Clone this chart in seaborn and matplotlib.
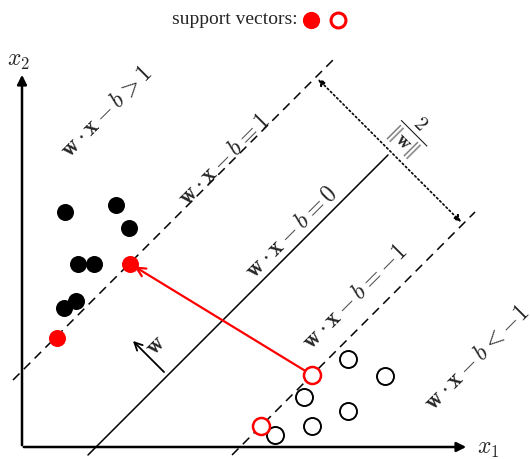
import matplotlib
matplotlib.use("Agg")
import matplotlib.pyplot as plt
import seaborn as sns
import numpy as np
import pandas as pd

# class +1 (filled) and class -1 (open) samples
pos_x = [43, 94, 107, 56, 72, 54, 42]
pos_y = [235, 242, 219, 183, 183, 146, 139]
neg_x = [326, 363, 282, 326, 290, 253]
neg_y = [88, 71, 50, 36, 21, 12]
# support vectors
sv_pos_x = [108, 35]
sv_pos_y = [183, 109]
sv_neg_x = [290, 239]
sv_neg_y = [72, 21]

# lines x2 = x1 + c  (c for w.x-b = 1, 0, -1) and their x1 extents
intercepts = [76, -74, -218]
line_x0 = [-9, 66, 210]
line_x1 = [311, 366, 453]
line_styles = ["--", "-", "--"]

sns.set_style("white")
plt.rcParams["mathtext.fontset"] = "cm"
plt.rcParams["font.family"] = ["Liberation Serif", "DejaVu Serif"]

fig = plt.figure(figsize=(5.30, 4.59), dpi=100)
ax = fig.add_axes([0, 0, 1, 1])
ax.set_xlim(-22, 508)
ax.set_ylim(-12, 447)
ax.axis("off")

for c, a, b, ls in zip(intercepts, line_x0, line_x1, line_styles):
    xs = np.array([a, b])
    ax.plot(xs, xs + c, color="black", lw=1.1, ls=ls, dashes=(6, 4) if ls == "--" else (None, None))

pos = pd.DataFrame({"x": pos_x, "y": pos_y})
neg = pd.DataFrame({"x": neg_x, "y": neg_y})
svp = pd.DataFrame({"x": sv_pos_x, "y": sv_pos_y})
svn = pd.DataFrame({"x": sv_neg_x, "y": sv_neg_y})
sns.scatterplot(data=pos, x="x", y="y", ax=ax, s=150, color="black", edgecolor="black", linewidth=0, zorder=3)
sns.scatterplot(data=neg, x="x", y="y", ax=ax, s=150, facecolor="white", edgecolor="black", linewidth=1.4, zorder=3)
sns.scatterplot(data=svp, x="x", y="y", ax=ax, s=150, color="#ff0000", edgecolor="#ff0000", linewidth=0, zorder=4)
sns.scatterplot(data=svn, x="x", y="y", ax=ax, s=150, facecolor="white", edgecolor="#ff0000", linewidth=1.8, zorder=4)

# coordinate axes
ax.annotate("", xy=(0, 375), xytext=(0, -1), arrowprops=dict(arrowstyle="-|>", color="black", lw=1.8, mutation_scale=14))
ax.annotate("", xy=(447, 0), xytext=(-1, 0), arrowprops=dict(arrowstyle="-|>", color="black", lw=1.8, mutation_scale=14))
ax.text(-4, 386, r"$x_2$", fontsize=17, ha="center", va="center")
ax.text(466, -2, r"$x_1$", fontsize=17, ha="center", va="center")

# margin arrow and red distance arrow
ax.annotate("", xy=(294, 370), xytext=(441, 223),
            arrowprops=dict(arrowstyle="<|-|>", color="black", lw=1.2, ls=":", mutation_scale=10))
ax.annotate("", xy=(110, 182), xytext=(290, 72),
            arrowprops=dict(arrowstyle="->", color="#ff0000", lw=1.6, mutation_scale=16))
ax.annotate("", xy=(109, 108), xytext=(144, 73),
            arrowprops=dict(arrowstyle="->", color="black", lw=1.3, mutation_scale=14))

lbl = dict(fontsize=17, ha="center", va="center", rotation=45, rotation_mode="anchor")
ax.text(85, 335, r"$\mathbf{w}\cdot\mathbf{x}-b>1$", **lbl)
ax.text(203, 287, r"$\mathbf{w}\cdot\mathbf{x}-b=1$", **lbl)
ax.text(270, 214, r"$\mathbf{w}\cdot\mathbf{x}-b=0$", **lbl)
ax.text(333, 149, r"$\mathbf{w}\cdot\mathbf{x}-b=-1$", **lbl)
ax.text(455, 88, r"$\mathbf{w}\cdot\mathbf{x}-b<-1$", **lbl)
ax.text(389, 313, r"$\frac{2}{\|\mathbf{w}\|}$", fontsize=21, ha="center", va="center", rotation=-45, rotation_mode="anchor")
ax.text(134, 101, r"$\mathbf{w}$", fontsize=17, ha="center", va="center", rotation=45, rotation_mode="anchor")

# legend line at top
ax.text(276, 427, "support vectors:", fontsize=14, ha="right", va="center")
ax.scatter([289], [427], s=130, color="#ff0000", clip_on=False)
ax.scatter([316], [427], s=115, facecolor="white", edgecolor="#ff0000", linewidth=2.2, clip_on=False)

fig.savefig("out.png", dpi=100)
